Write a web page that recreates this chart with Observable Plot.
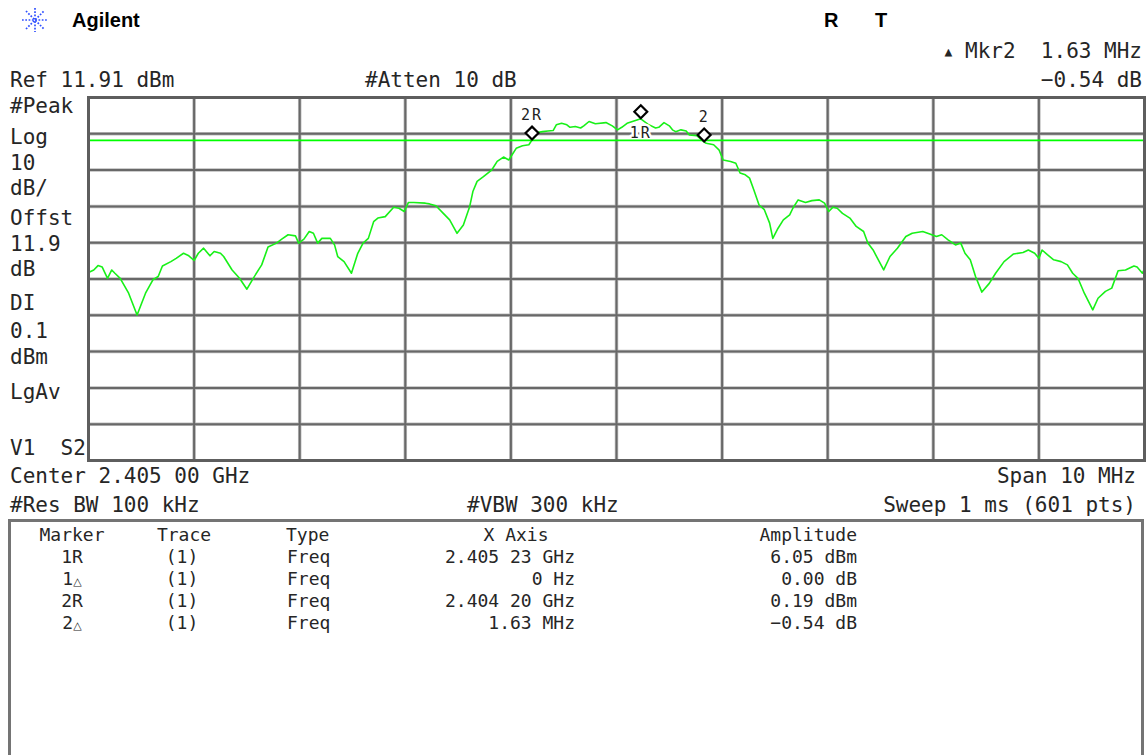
<!DOCTYPE html>
<html><head><meta charset="utf-8">
<script src="https://cdn.jsdelivr.net/npm/d3@7"></script>
<script src="https://cdn.jsdelivr.net/npm/@observablehq/plot@0.6"></script>
<style>
body{margin:0;background:#fff;}
#wrap{position:relative;width:1146px;height:755px;overflow:hidden;background:#fff;font-family:"DejaVu Sans Mono",monospace;color:#262626;}
.t{position:absolute;white-space:pre;font-size:21px;line-height:24px;}
.tb{position:absolute;white-space:pre;font-size:18px;line-height:22px;}
.hd{position:absolute;white-space:pre;font-family:"Liberation Sans",Arial,sans-serif;font-weight:bold;font-size:20px;line-height:24px;color:#000;}
#plot{position:absolute;left:0;top:0;}
#box{position:absolute;left:8px;top:519px;width:1130px;height:300px;border:3px solid #747474;border-bottom:none;}
</style></head>
<body>
<div id="wrap">
  <svg style="position:absolute;left:20px;top:6px" width="30" height="28" viewBox="-15 -14 30 28">
    <g stroke="#3050ff" stroke-width="1.7" stroke-dasharray="1.7 1.6">
      <line x1="-13" y1="0" x2="13" y2="0"/><line x1="0" y1="-12" x2="0" y2="12"/>
      <line x1="-9" y1="-9" x2="9" y2="9"/><line x1="-9" y1="9" x2="9" y2="-9"/>
    </g>
  </svg>
  <div class="hd" style="left:72px;top:8px">Agilent</div>
  <div class="hd" style="left:824px;top:8px">R</div>
  <div class="hd" style="left:875px;top:8px">T</div>
  <div class="t" style="right:4px;top:39px"><span style="font-size:13px;vertical-align:2px">▲</span> Mkr2  1.63 MHz</div>
  <div class="t" style="right:4px;top:68px">−0.54 dB</div>
  <div class="t" style="left:10px;top:68px">Ref 11.91 dBm</div>
  <div class="t" style="left:365px;top:68px">#Atten 10 dB</div>
  <div id="side"></div>
  <div class="t" style="left:10px;top:464px">Center 2.405 00 GHz</div>
  <div class="t" style="right:10px;top:464px">Span 10 MHz</div>
  <div class="t" style="left:10px;top:493px">#Res BW 100 kHz</div>
  <div class="t" style="left:467px;top:493px">#VBW 300 kHz</div>
  <div class="t" style="right:10px;top:493px">Sweep 1 ms (601 pts)</div>
  <div id="box"></div>
  <div id="table"></div>
  <div id="plot"></div>
</div>
<script>
// ---- trace data (frequency in MHz, level in dBm) ----
const freqMHz = [2400.00,2400.05,2400.09,2400.13,2400.18,2400.22,2400.25,2400.30,2400.38,2400.46,
2400.54,2400.61,2400.66,2400.70,2400.78,2400.83,2400.90,2400.95,2401.00,2401.04,
2401.09,2401.15,2401.19,2401.25,2401.28,2401.36,2401.43,2401.50,2401.56,2401.64,
2401.70,2401.78,2401.83,2401.89,2401.96,2401.99,2402.04,2402.09,2402.13,2402.17,
2402.21,2402.29,2402.33,2402.36,2402.42,2402.49,2402.55,2402.60,2402.65,2402.70,
2402.74,2402.81,2402.89,2402.94,2402.99,2403.03,2403.08,2403.19,2403.23,2403.29,
2403.36,2403.42,2403.49,2403.55,2403.61,2403.64,2403.68,2403.74,2403.82,2403.87,
2403.93,2403.98,2404.05,2404.11,2404.17,2404.20,2404.26,2404.30,2404.35,2404.40,
2404.43,2404.48,2404.53,2404.56,2404.61,2404.66,2404.69,2404.74,2404.80,2404.90,
2404.96,2405.01,2405.05,2405.10,2405.15,2405.23,2405.30,2405.37,2405.40,2405.45,
2405.50,2405.53,2405.56,2405.61,2405.66,2405.69,2405.76,2405.83,2405.85,2405.92,
2405.97,2406.01,2406.08,2406.13,2406.17,2406.22,2406.26,2406.30,2406.35,2406.40,
2406.45,2406.48,2406.53,2406.58,2406.64,2406.67,2406.72,2406.79,2406.85,2406.92,
2406.97,2407.01,2407.05,2407.09,2407.14,2407.21,2407.27,2407.34,2407.38,2407.43,
2407.53,2407.59,2407.66,2407.74,2407.80,2407.90,2407.96,2408.03,2408.08,2408.14,
2408.21,2408.26,2408.30,2408.35,2408.40,2408.46,2408.53,2408.59,2408.67,2408.76,
2408.85,2408.90,2408.96,2409.00,2409.03,2409.08,2409.14,2409.21,2409.27,2409.32,
2409.37,2409.43,2409.51,2409.56,2409.63,2409.69,2409.75,2409.82,2409.90,2409.93,
2409.98,2410.00];
const levelDbm = [-36.3,-35.6,-34.4,-34.8,-37.9,-35.6,-36.5,-37.9,-42.0,-48.0,
-42.0,-38.3,-37.4,-34.5,-33.3,-32.4,-31.0,-31.7,-33.0,-31.0,
-29.6,-31.7,-30.5,-31.0,-31.9,-35.6,-37.9,-40.9,-37.9,-34.2,
-29.3,-28.2,-27.1,-25.9,-26.2,-28.2,-27.1,-25.0,-25.5,-28.2,
-26.9,-26.9,-28.7,-31.9,-33.3,-36.5,-31.0,-28.2,-26.9,-22.3,
-21.3,-20.9,-18.3,-18.6,-19.5,-17.0,-17.0,-17.2,-17.4,-17.9,
-20.0,-21.8,-25.5,-23.2,-18.1,-14.0,-11.2,-9.9,-8.0,-5.7,
-4.5,-5.3,-2.1,-1.4,-1.1,0.19,2.3,2.5,2.7,2.8,
4.4,4.8,4.4,3.7,3.9,3.5,4.1,5.3,4.7,5.0,
4.1,3.0,3.7,4.8,5.3,6.05,4.5,3.5,3.7,5.0,
4.1,3.0,2.5,3.0,2.7,1.6,1.4,-0.35,-0.7,-1.1,
-2.5,-5.3,-5.7,-6.2,-8.9,-9.4,-10.3,-13.5,-17.7,-19.0,
-22.7,-26.9,-24.1,-21.8,-20.4,-18.6,-16.3,-17.0,-16.5,-16.3,
-17.2,-19.5,-18.3,-18.6,-20.0,-21.3,-23.6,-25.0,-28.2,-30.1,
-35.6,-31.9,-29.6,-26.4,-25.5,-25.0,-25.6,-26.4,-25.9,-27.3,
-28.7,-28.2,-31.0,-32.8,-37.4,-41.7,-39.3,-36.5,-33.3,-31.2,
-30.8,-30.1,-31.0,-32.4,-30.1,-31.4,-32.8,-33.3,-34.2,-36.5,
-37.9,-42.0,-46.6,-43.4,-41.5,-40.6,-35.8,-35.6,-34.5,-34.8,
-36.5,-35.4];

// ---- instrument settings ----
const refLevel = 11.91;      // dBm, top of graticule
const dbPerDiv = 10;
const displayLine = 0.1;     // dBm
const gridFreq = [2400,2401,2402,2403,2404,2405,2406,2407,2408,2409,2410];
const gridLevel = [11.91,1.91,-8.09,-18.09,-28.09,-38.09,-48.09,-58.09,-68.09,-78.09,-88.09];

// ---- markers on the trace ----
const markerLabel = ["1R","2R","2"];
const markerFreq = [2405.23, 2404.20, 2405.83];
const markerLevel = [6.05, 0.19, -0.35];

// ---- marker table ----
const tblMarker = ["1R","1△","2R","2△"];
const tblTrace = ["(1)","(1)","(1)","(1)"];
const tblType = ["Freq","Freq","Freq","Freq"];
const tblXAxis = ["2.405 23 GHz","0 Hz","2.404 20 GHz","1.63 MHz"];
const tblAmp = ["6.05 dBm","0.00 dB","0.19 dBm","−0.54 dB"];

// ---- side annotations ----
const sideText = ["#Peak","Log","10","dB/","Offst","11.9","dB","DI","0.1","dBm","LgAv","V1  S2"];
const sideY = [106,137,163,188,218,244,269,303,331,357,392,448];

const side = document.getElementById("side");
sideText.forEach((s,i)=>{
  const d=document.createElement("div"); d.className="t";
  d.style.left="10px"; d.style.top=(sideY[i]-12)+"px"; d.textContent=s; side.appendChild(d);
});

const table = document.getElementById("table");
function cell(txt, x, cy, align){
  const d=document.createElement("div"); d.className="tb";
  d.style.top=(cy-11)+"px";
  if(align==="right"){d.style.right=(1146-x)+"px";}
  else if(align==="center"){d.style.left=(x-100)+"px"; d.style.width="200px"; d.style.textAlign="center";}
  else d.style.left=x+"px";
  d.innerHTML=txt; table.appendChild(d);
}
const rowY=[535,557,579,601,623];
cell("Marker",72,rowY[0],"center");
cell("Trace",184,rowY[0],"center");
cell("Type",286,rowY[0],"left");
cell("X Axis",516,rowY[0],"center");
cell("Amplitude",857,rowY[0],"right");
tblMarker.forEach((m,i)=>{
  const y=rowY[i+1];
  cell(m.replace("△",'<span style="font-size:11px;font-family:\'DejaVu Sans\'">△</span>'),72,y,"center");
  cell(tblTrace[i],182,y,"center");
  cell(tblType[i],287,y,"left");
  cell(tblXAxis[i],575,y,"right");
  cell(tblAmp[i],857,y,"right");
});

const trace = freqMHz.map((f,i)=>({f, v: levelDbm[i]})).filter(d=>d.v!=null);
const markers = markerLabel.map((m,i)=>({m, f: markerFreq[i], v: markerLevel[i]}));
const mk1 = markers.filter(d=>d.m==="1R");
const mkOther = markers.filter(d=>d.m!=="1R");

const chart = Plot.plot({
  width:1146, height:470,
  marginLeft:88, marginRight:2, marginTop:97, marginBottom:10,
  x:{domain:[gridFreq[0], gridFreq[gridFreq.length-1]], axis:null},
  y:{domain:[refLevel-10*dbPerDiv, refLevel], axis:null},
  style:{background:"transparent", overflow:"visible"},
  marks:[
    Plot.ruleX(gridFreq.slice(1,-1), {stroke:"#bdbdbd", strokeWidth:3.5}),
    Plot.ruleY(gridLevel.slice(1,-1), {stroke:"#bdbdbd", strokeWidth:3.5}),
    Plot.ruleX(gridFreq.slice(1,-1), {stroke:"#686868", strokeWidth:2}),
    Plot.ruleY(gridLevel.slice(1,-1), {stroke:"#686868", strokeWidth:2}),
    Plot.line(trace, {x:"f", y:"v", stroke:"#18f018", strokeWidth:1.6}),
    Plot.text(mk1, {x:"f", y:"v", text:"m", dy:14, fontSize:15, fontFamily:"DejaVu Sans Mono", fill:"#222", stroke:"white", strokeWidth:5}),
    Plot.ruleY([displayLine], {stroke:"#00ff00", strokeWidth:1.6}),
    Plot.frame({stroke:"#5e5e5e", strokeWidth:3}),
    Plot.dot(markers, {x:"f", y:"v", symbol:"diamond2", r:5.8, stroke:"#000", strokeWidth:2.2, fill:"white", dy:-7}),
    Plot.text(mkOther, {x:"f", y:"v", text:"m", dy:-25, fontSize:15, fontFamily:"DejaVu Sans Mono", fill:"#222"})
  ]
});
d3.select(chart).selectAll("text").attr("letter-spacing", 2);
document.getElementById("plot").appendChild(chart);
</script>
</body></html>
